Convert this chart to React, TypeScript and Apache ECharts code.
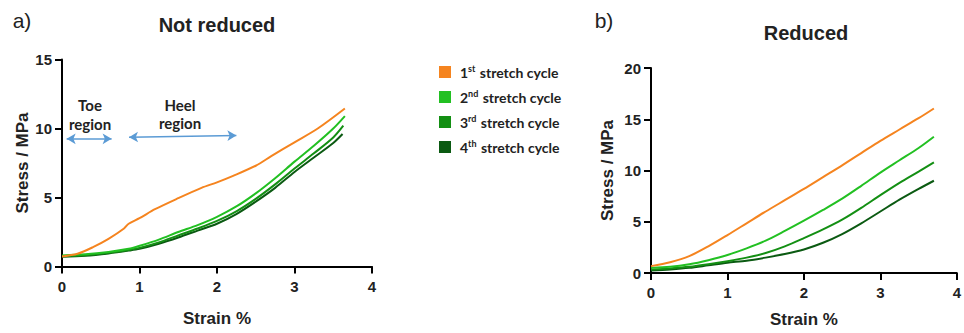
import React, { useEffect, useRef } from "react";
import * as echarts from "echarts";

// ---------- Data ----------
const seriesNames = ["1st stretch cycle", "2nd stretch cycle", "3rd stretch cycle", "4th stretch cycle"];
const legendNum = ["1", "2", "3", "4"];
const legendSup = ["st", "nd", "rd", "th"];
const colors = ["#F5841F", "#22C022", "#138F13", "#0B5A12"];

// Not reduced (panel a)
const nrX1 = [0, 0.2, 0.4, 0.6, 0.8, 0.86, 1.0, 1.2, 1.5, 1.8, 2.0, 2.2, 2.5, 2.7, 3.0, 3.3, 3.65];
const nrY1 = [0.73, 0.92, 1.4, 2.0, 2.75, 3.1, 3.5, 4.15, 4.95, 5.7, 6.1, 6.55, 7.3, 8.0, 9.0, 10.0, 11.45];
const nrX2 = [0, 0.3, 0.6, 0.86, 1.0, 1.25, 1.5, 1.75, 2.0, 2.25, 2.5, 2.75, 3.0, 3.25, 3.5, 3.65];
const nrY2 = [0.8, 0.88, 1.05, 1.28, 1.5, 1.95, 2.5, 3.0, 3.6, 4.35, 5.3, 6.4, 7.6, 8.75, 10.0, 10.9];
const nrX3 = [0, 0.3, 0.6, 0.86, 1.0, 1.25, 1.5, 1.75, 2.0, 2.25, 2.5, 2.75, 3.0, 3.25, 3.5, 3.63];
const nrY3 = [0.75, 0.82, 1.0, 1.2, 1.35, 1.75, 2.25, 2.75, 3.3, 4.0, 4.9, 5.95, 7.1, 8.2, 9.35, 10.2];
const nrX4 = [0, 0.3, 0.6, 0.86, 1.0, 1.25, 1.5, 1.75, 2.0, 2.25, 2.5, 2.75, 3.0, 3.25, 3.5, 3.62];
const nrY4 = [0.7, 0.78, 0.95, 1.15, 1.28, 1.65, 2.1, 2.6, 3.1, 3.8, 4.7, 5.7, 6.85, 7.9, 8.95, 9.6];

// Reduced (panel b)
const rX = [0, 0.25, 0.5, 0.75, 1.0, 1.25, 1.5, 1.75, 2.0, 2.25, 2.5, 2.75, 3.0, 3.25, 3.5, 3.7];
const rY1 = [0.67, 1.05, 1.64, 2.6, 3.7, 4.85, 6.0, 7.1, 8.2, 9.35, 10.5, 11.7, 12.9, 14.0, 15.1, 16.05];
const rY2 = [0.5, 0.6, 0.85, 1.25, 1.75, 2.4, 3.15, 4.1, 5.1, 6.15, 7.25, 8.5, 9.8, 11.0, 12.2, 13.3];
const rY3 = [0.35, 0.45, 0.6, 0.85, 1.15, 1.5, 1.95, 2.6, 3.4, 4.25, 5.2, 6.35, 7.6, 8.8, 9.9, 10.8];
const rY4 = [0.25, 0.35, 0.5, 0.75, 1.0, 1.2, 1.5, 1.85, 2.3, 2.95, 3.8, 4.85, 6.0, 7.15, 8.2, 9.0];

// Axis ticks
const xTicks = { min: 0, max: 4, interval: 1 };
const yTicksA = { min: 0, max: 15, interval: 5 };
const yTicksB = { min: 0, max: 20, interval: 5 };

// Annotation arrows (data coordinates in panel a)
const toeArrow = [[0.06, 9.25], [0.64, 9.25]];
const heelArrow = [[0.865, 9.37], [2.25, 9.5]];

const zip = (xs: number[], ys: number[]) => xs.map((x, i) => [x, ys[i]]);

const FONT = "'Liberation Sans', Arial, sans-serif";

export default function App() {
  const ref = useRef<HTMLDivElement>(null);
  useEffect(() => {
    if (!ref.current) return;
    const chart = echarts.init(ref.current, null, { renderer: "svg" });

    const axisCommon = {
      axisLine: { show: true, onZero: false, lineStyle: { color: "#000", width: 2 } },
      axisTick: { show: true, length: 7, lineStyle: { color: "#000", width: 2 } },
      splitLine: { show: false },
      nameLocation: "middle" as const,
      nameTextStyle: { color: "#222", fontWeight: "bold" as const, fontSize: 17, fontFamily: FONT },
    };
    const xAxisLabel = { color: "#222", fontWeight: "bold" as const, fontSize: 15, fontFamily: FONT, margin: 12 };
    const yAxisLabel = { color: "#222", fontWeight: "bold" as const, fontSize: 15, fontFamily: FONT, margin: 10 };

    const nrData = [zip(nrX1, nrY1), zip(nrX2, nrY2), zip(nrX3, nrY3), zip(nrX4, nrY4)];
    const rData = [zip(rX, rY1), zip(rX, rY2), zip(rX, rY3), zip(rX, rY4)];

    const series: any[] = [];
    nrData.forEach((d, i) => {
      const s: any = {
        type: "line",
        name: seriesNames[i],
        xAxisIndex: 0,
        yAxisIndex: 0,
        data: d,
        smooth: 0.3,
        showSymbol: false,
        z: 10 - i,
        lineStyle: { color: colors[i], width: 2 },
        itemStyle: { color: colors[i] },
      };
      if (i === 0) {
        s.markLine = {
          silent: true,
          symbol: ["arrow", "arrow"],
          symbolSize: [8, 9],
          label: { show: false },
          lineStyle: { color: "#5B9BD5", width: 1.5, type: "solid" },
          data: [
            [{ coord: toeArrow[0] }, { coord: toeArrow[1] }],
            [{ coord: heelArrow[0] }, { coord: heelArrow[1] }],
          ],
        };
      }
      series.push(s);
    });
    rData.forEach((d, i) => {
      series.push({
        type: "line",
        name: seriesNames[i],
        xAxisIndex: 1,
        yAxisIndex: 1,
        data: d,
        smooth: 0.3,
        showSymbol: false,
        z: 10 - i,
        lineStyle: { color: colors[i], width: 2 },
        itemStyle: { color: colors[i] },
      });
    });

    const legendRich: any = {
      n: { fontSize: 14, fontWeight: "bold", fontFamily: "Lato, sans-serif", color: "#222", lineHeight: 16 },
      s: { fontSize: 9, fontWeight: "bold", fontFamily: "Lato, sans-serif", color: "#222", verticalAlign: "top", lineHeight: 16, padding: [0, 1, 6, 0] },
    };

    const boldText = (text: string, x: number, y: number, size: number, family = "Lato, sans-serif", weight: any = "bold") => ({
      type: "text",
      x,
      y,
      style: {
        text,
        fill: "#222",
        font: `${weight} ${size}px ${family}`,
        textAlign: "center",
        textVerticalAlign: "middle",
      },
    });

    chart.setOption({
      animation: false,
      backgroundColor: "#fff",
      grid: [
        { left: 62, top: 59.5, width: 310, height: 207, containLabel: false },
        { left: 651, top: 68, width: 311, height: 207, containLabel: false },
      ],
      xAxis: [
        { ...axisCommon, gridIndex: 0, type: "value", ...xTicks, name: "Strain %", nameGap: 43, axisLabel: xAxisLabel },
        { ...axisCommon, gridIndex: 1, type: "value", ...xTicks, name: "Strain %", nameGap: 38, axisLabel: xAxisLabel },
      ],
      yAxis: [
        { ...axisCommon, gridIndex: 0, type: "value", ...yTicksA, name: "Stress / MPa", nameGap: 31, axisLabel: yAxisLabel },
        { ...axisCommon, gridIndex: 1, type: "value", ...yTicksB, name: "Stress / MPa", nameGap: 35, axisLabel: yAxisLabel },
      ],
      legend: {
        data: seriesNames,
        orient: "vertical",
        left: 434,
        top: 59,
        itemWidth: 12,
        itemHeight: 12,
        itemGap: 10,
        icon: "rect",
        selectedMode: false,
        formatter: (name: string) => {
          const i = seriesNames.indexOf(name);
          return `{n|${legendNum[i]}}{s|${legendSup[i]}}{n| stretch cycle}`;
        },
        textStyle: { rich: legendRich, padding: [0, 0, 0, 4] },
      },
      graphic: [
        boldText("a)", 22, 20, 21, FONT, "normal"),
        boldText("b)", 604, 20, 21, FONT, "normal"),
        boldText("Not reduced", 217, 25, 20, FONT),
        boldText("Reduced", 806, 33, 20, FONT),
        boldText("Toe", 90, 105, 15),
        boldText("region", 90, 124, 15),
        boldText("Heel", 180, 105, 15),
        boldText("region", 180, 123, 15),
      ],
      series,
    });

    return () => chart.dispose();
  }, []);

  return (
    <div
      ref={ref}
      style={{ position: "fixed", left: 0, top: 0, width: 964, height: 333, background: "#fff" }}
    />
  );
}
